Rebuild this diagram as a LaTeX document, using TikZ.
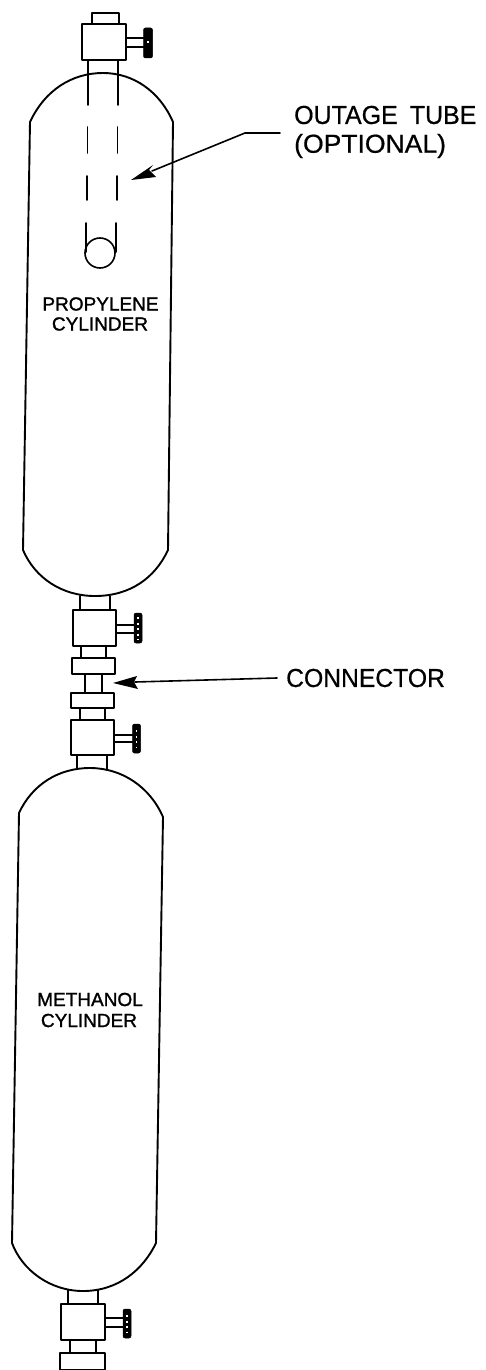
\documentclass[tikz,border=0pt]{standalone}
\usepackage{fontspec}
\setmainfont{Liberation Sans}
\newfontfamily\heavyfont[FakeBold=1.3]{Liberation Sans}
\newfontfamily\midfont[FakeBold=0.6]{Liberation Sans}
\tikzset{
  ln/.style={line width=1.9pt,black,line cap=round,line join=round},
  thin ln/.style={line width=1.6pt,black,line cap=round,line join=round},
  knob/.style={draw=black,fill=black,line width=.5pt,inner sep=0pt,rounded corners=2pt},
  notch/.style={white,line width=1.6pt,dash pattern=on 2pt off 3.5pt},
  bigtext/.style={font=\midfont\fontsize{26}{26}\selectfont,inner sep=0pt,anchor=west,text=black},
  smalltext/.style={font=\heavyfont\fontsize{19}{19}\selectfont,inner sep=0pt,text=black},
}
\newcommand{\valvehandle}[4]{% x0 x1 ytop(stem) ybot(stem)
  \draw[thin ln] (#1,#3) -- (#2,#3) (#1,#4) -- (#2,#4);}
\begin{document}
\begin{tikzpicture}[x=1pt,y=-1pt]
\useasboundingbox (0,0) rectangle (486,1370);
% Cylinder 1
\draw[ln] (30,122) .. controls (45,90) and (72,73) .. (103,73)
   .. controls (134,73) and (160,92) .. (173,122)
   -- (168,550) .. controls (155,578) and (130,596) .. (95,596)
   .. controls (62,596) and (35,578) .. (23,550) -- cycle;
% Cylinder 2
\draw[ln] (19,813) .. controls (32,785) and (58,768) .. (90,768)
   .. controls (122,768) and (150,787) .. (163,817)
   -- (156,1243) .. controls (143,1270) and (118,1291) .. (83,1291)
   .. controls (50,1291) and (22,1270) .. (12,1243) -- cycle;
% Top valve
\draw[ln] (88,60) -- (88,105) (118,60) -- (118,105);
\draw[ln] (92,24) -- (92,13) -- (119,13) -- (119,24);
\draw[ln,fill=white] (82,24) rectangle (126,60);
\valvehandle{126}{144}{38}{47}
\node[knob,minimum width=9pt,minimum height=30pt] (k1) at (148,43) {};
\draw[notch] (148,41) -- (148,45);
% Outage tube
\draw[thin ln] (87.5,127) -- (87.5,153) (117.5,127) -- (117.5,153)
   (87,176) -- (87,200) (117,176) -- (117,200)
   (86,223) -- (86,252) (116,223) -- (116,252);
\node[draw=black,line width=1.6pt,circle,minimum size=30pt,inner sep=0pt] (c1) at (100,253) {};
% Valve below cylinder 1
\draw[ln] (80,596) -- (80,610) (110,596) -- (110,610);
\draw[ln,fill=white] (73,610) rectangle (116,646);
\valvehandle{116}{135}{625}{633}
\node[knob,minimum width=8pt,minimum height=30pt] (k2) at (138,628) {};
\draw[notch] (138,617) -- (138,640);
\draw[ln] (81,646) -- (81,658) (106,646) -- (106,658);
\draw[ln,fill=white] (72,658) rectangle (115,674);
\draw[ln] (85,674) -- (85,693) (102,674) -- (102,693);
\draw[ln,fill=white] (71,693) rectangle (114,708);
\draw[ln] (80,708) -- (80,720) (105,708) -- (105,720);
\draw[ln,fill=white] (71,720) rectangle (114,755);
\valvehandle{114}{133}{735}{742}
\node[knob,minimum width=8pt,minimum height=29pt] (k3) at (136.5,738.5) {};
\draw[notch] (136.5,730) -- (136.5,748);
\draw[ln] (77,755) -- (77,769) (107,755) -- (107,770);
% Bottom valve
\draw[ln] (68,1290) -- (68,1304) (98,1290) -- (98,1304);
\draw[ln,fill=white] (61,1304) rectangle (105,1340);
\valvehandle{105}{124}{1318}{1327}
\node[knob,minimum width=8pt,minimum height=29pt] (k4) at (127,1323.5) {};
\draw[notch] (127,1315) -- (127,1333);
\draw[ln] (70,1340) -- (70,1352) (96,1340) -- (96,1352);
\draw[ln] (60,1370) -- (60,1353) -- (105,1353) -- (105,1370);
\draw[ln] (60,1369.5) -- (105,1369.5);
% Labels
\node[bigtext] (t1) at (294,115) {\scalebox{.96}[1]{OUTAGE\hspace{12.6pt}TUBE}};
\node[bigtext] (t2) at (294,146) {\scalebox{1.02}[1]{(OPTIONAL)}};
\node[bigtext] (t3) at (286,678) {\scalebox{.95}[1]{CONNECTOR}};
\node[smalltext] (t4) at (100.5,304) {PROPYLENE};
\node[smalltext] (t5) at (100,324) {CYLINDER};
\node[smalltext] (t6) at (90,999.5) {METHANOL};
\node[smalltext] (t7) at (89,1020.5) {CYLINDER};
% Arrows
\coordinate (a1) at (245,133);
\coordinate (a2) at (131,180);
\draw[thin ln] (280,133) -- (a1) -- (152,171);
\fill (a2) -- (153,165) -- (149,170) -- (156,177) -- cycle;
\coordinate (a3) at (113,683);
\draw[thin ln] (t3.west) ++(-9,0) -- (135,682);
\fill (a3) -- (137,676) -- (134,682) -- (138,689) -- cycle;
\end{tikzpicture}
\end{document}
